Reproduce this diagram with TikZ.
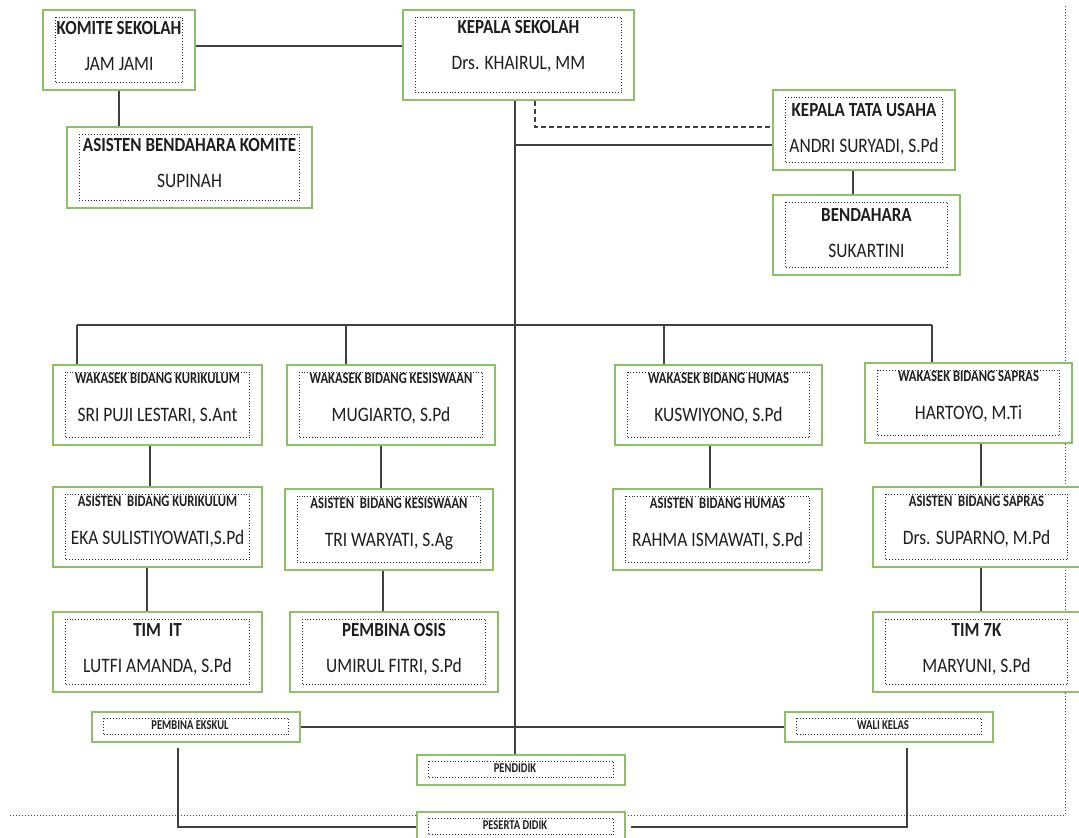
\documentclass[tikz,border=0pt]{standalone}
\usepackage{fontspec}
\setmainfont{Carlito}
\newfontfamily\condname{Carlito}[FakeStretch=0.85]
\newfontfamily\condtitle{Carlito}[FakeStretch=0.85]
\newfontfamily\condsmall{Carlito}[FakeStretch=0.79]
\newfontfamily\condtiny{Carlito}[FakeStretch=0.78]
\usetikzlibrary{calc}
\definecolor{boxgreen}{RGB}{140,192,100}
\definecolor{ink}{RGB}{30,30,30}
\definecolor{wirec}{RGB}{64,64,64}
\tikzset{
 outerbox/.style={draw=boxgreen, line width=1.8pt, fill=white, inner sep=0pt},
 innerbox/.style={draw=black!85, dotted, line width=0.9pt},
 wire/.style={draw=wirec, line width=1.4pt},
 thickwire/.style={draw=wirec, line width=2pt},
 dashwire/.style={draw=wirec, line width=1.3pt, dash pattern=on 5pt off 3pt},
 bigtitle/.style={font=\condtitle\fontsize{20}{20}\selectfont\bfseries, text=ink, inner sep=0pt, anchor=base, yshift=-7pt},
 smalltitle/.style={font=\condsmall\fontsize{16}{16}\selectfont\bfseries, text=ink, inner sep=0pt, anchor=base, yshift=-5pt},
 person/.style={font=\condname\fontsize{20.5}{20.5}\selectfont, text=ink, inner sep=0pt, anchor=base, yshift=-7.5pt},
 tinylabel/.style={font=\condtiny\fontsize{13.5}{13.5}\selectfont\bfseries, text=ink, inner sep=0pt, anchor=base, yshift=-2.5pt},
 frameline/.style={draw=black!75, dotted, line width=1pt}
}
\newcommand\orgbox[9]{%
 \node[outerbox, minimum width={#4-#2}, minimum height={#5-#3}] (#1) at ({(#2+#4)/2},{(#3+#5)/2}) {};
 \draw[innerbox] ($(#1.north west)+(13,8)$) rectangle ($(#1.south east)+(-13,-8)$);
 \node[#6] (#1-t) at ($(#1.north)+(0,#9)$) {#7};
 \node[person] (#1-p) at ($(#1.north)+(0,#9+36)$) {#8};
}
\newcommand\slimbox[6]{%
 \node[outerbox, minimum width={#4-#2}, minimum height={#5-#3}] (#1) at ({(#2+#4)/2},{(#3+#5)/2}) {};
 \draw[innerbox] ($(#1.north west)+(12,7)$) rectangle ($(#1.south east)+(-12,-8)$);
 \node[tinylabel] (#1-t) at ($(#1.center)+(-6,0)$) {#6};
}
\begin{document}
\begin{tikzpicture}[x=1pt,y=-1pt]
\useasboundingbox (0,0) rectangle (1079,838);
% frame (dotted border)
\draw[frameline] (10,815) -- (1065,815) -- (1065,6);
% boxes
\orgbox{komite}{43}{10}{195}{90}{bigtitle}{KOMITE SEKOLAH}{JAM JAMI}{18}
\orgbox{asb}{67}{127}{312}{208}{bigtitle}{ASISTEN BENDAHARA KOMITE}{SUPINAH}{18}
\orgbox{kepala}{403}{10}{634}{100}{bigtitle}{KEPALA SEKOLAH}{Drs. KHAIRUL, MM}{17}
\orgbox{ktu}{773}{90}{955}{170}{bigtitle}{KEPALA TATA USAHA}{ANDRI SURYADI, S.Pd}{20}
\orgbox{bend}{773}{195}{960}{275}{bigtitle}{BENDAHARA}{SUKARTINI}{20}
\orgbox{wkur}{53}{365}{262}{445}{smalltitle}{WAKASEK BIDANG KURIKULUM}{SRI PUJI LESTARI, S.Ant}{14}
\orgbox{wkes}{287}{365}{495}{445}{smalltitle}{WAKASEK BIDANG KESISWAAN}{MUGIARTO, S.Pd}{14}
\orgbox{whum}{615}{365}{822}{445}{smalltitle}{WAKASEK BIDANG HUMAS}{KUSWIYONO, S.Pd}{14}
\orgbox{wsap}{865}{363}{1072}{443}{smalltitle}{WAKASEK BIDANG SAPRAS}{HARTOYO, M.Ti}{14}
\orgbox{akur}{53}{487}{262}{567}{smalltitle}{ASISTEN\ \ BIDANG KURIKULUM}{EKA SULISTIYOWATI,S.Pd}{15}
\orgbox{akes}{285}{489}{493}{570}{smalltitle}{ASISTEN\ \ BIDANG KESISWAAN}{TRI WARYATI, S.Ag}{15}
\orgbox{ahum}{613}{489}{822}{570}{smalltitle}{ASISTEN\ \ BIDANG HUMAS}{RAHMA ISMAWATI, S.Pd}{15}
\orgbox{asap}{873}{487}{1080}{567}{smalltitle}{ASISTEN\ \ BIDANG SAPRAS}{Drs. SUPARNO, M.Pd}{15}
\orgbox{timit}{53}{612}{262}{692}{bigtitle}{TIM\ \ IT}{LUTFI AMANDA, S.Pd}{18}
\orgbox{osis}{290}{612}{498}{692}{bigtitle}{PEMBINA OSIS}{UMIRUL FITRI, S.Pd}{18}
\orgbox{tim7k}{873}{612}{1080}{692}{bigtitle}{TIM 7K}{MARYUNI, S.Pd}{18}
\slimbox{ekskul}{92}{712}{300}{742}{PEMBINA EKSKUL}
\slimbox{wali}{785}{712}{993}{742}{WALI KELAS}
\slimbox{pendidik}{417}{755}{625}{785}{PENDIDIK}
\slimbox{peserta}{417}{812}{625}{842}{PESERTA DIDIK}
% helper coordinates
\coordinate (tx) at (515,0);
\coordinate (dx) at (535,0);
\coordinate (dy) at (0,127);
\coordinate (sy) at (0,145);
\coordinate (kx) at (853,0);
\coordinate (d1) at (77,325);
\coordinate (d2) at (346,325);
\coordinate (d3) at (664,325);
\coordinate (d4) at (932,325);
\coordinate (v1) at (150,0);
\coordinate (v2) at (381,0);
\coordinate (v3) at (710,0);
\coordinate (v4) at (981,0);
\coordinate (u1) at (147,0);
\coordinate (u2) at (383,0);
\coordinate (ekfoot) at (178,748);
\coordinate (wkfoot) at (907,748);
% connectors
\draw[thickwire] ($(komite.east)+(0,-4)$) -- ($(komite.east -| kepala.west)+(0,-4)$);
\draw[wire] (komite.south) -- (komite.south |- asb.north);
\draw[wire] (kepala.south -| tx) -- (pendidik.north -| tx);
\draw[dashwire] (kepala.south -| dx) |- (ktu.west |- dy);
\draw[thickwire] (tx |- sy) -- (ktu.west |- sy);
\draw[wire] (ktu.south -| kx) -- (bend.north -| kx);
\draw[wire] (d1) -- (d4);
\draw[wire] (d1) -- (d1 |- wkur.north);
\draw[wire] (d2) -- (d2 |- wkes.north);
\draw[wire] (d3) -- (d3 |- whum.north);
\draw[wire] (d4) -- (d4 |- wsap.north);
\draw[wire] (wkur.south -| v1) -- (akur.north -| v1);
\draw[wire] (wkes.south -| v2) -- (akes.north -| v2);
\draw[wire] (whum.south -| v3) -- (ahum.north -| v3);
\draw[wire] (wsap.south -| v4) -- (asap.north -| v4);
\draw[wire] (akur.south -| u1) -- (timit.north -| u1);
\draw[wire] (akes.south -| u2) -- (osis.north -| u2);
\draw[wire] (asap.south -| v4) -- (tim7k.north -| v4);
\draw[thickwire] (ekskul.east) -- (wali.west);
\draw[thickwire] (ekfoot) |- (peserta.west);
\draw[thickwire] (wkfoot) |- ($(peserta.east)+(5,0)$);
\end{tikzpicture}
\end{document}
